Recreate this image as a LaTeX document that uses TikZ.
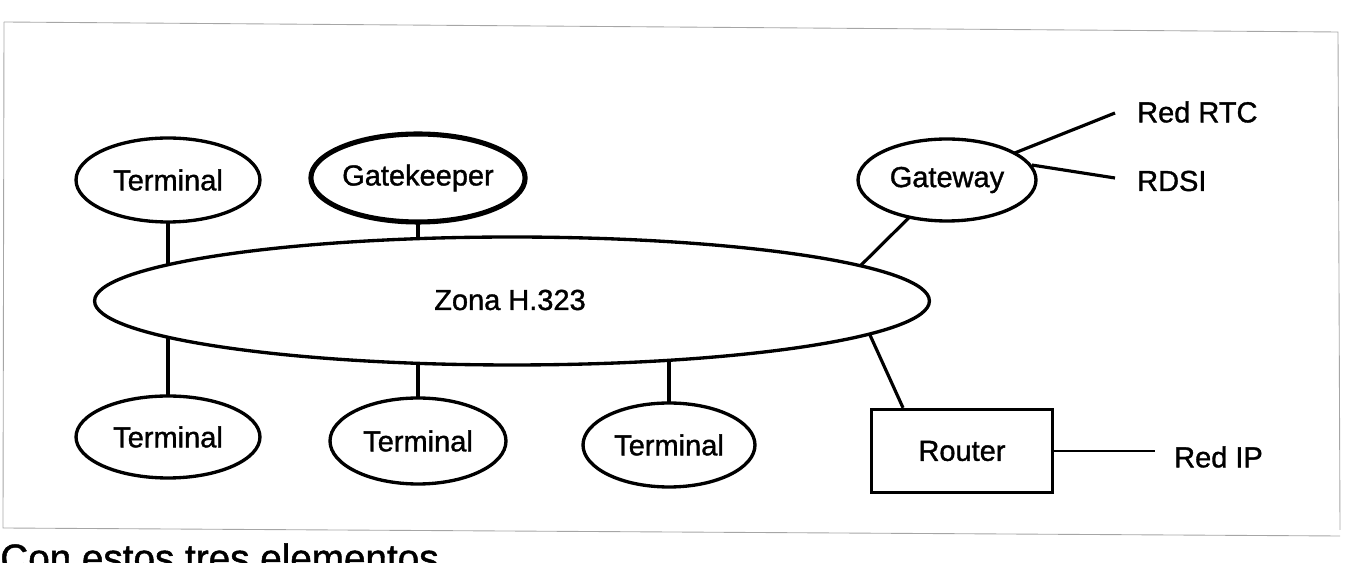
\documentclass[tikz,border=0pt]{standalone}
\usepackage{fontspec}
\setmainfont[FakeBold=1.2]{Liberation Sans}
\usetikzlibrary{shapes.geometric,backgrounds,calc}
\begin{document}
\begin{tikzpicture}[x=0.02cm,y=-0.02cm,
  lbl/.style={font=\fontsize{16.5}{18}\selectfont},
  ell/.style={ellipse,draw,line width=1.9pt,fill=white,inner sep=0pt,lbl},
  box/.style={rectangle,draw,line width=1.9pt,fill=white,inner sep=0pt,lbl},
  conn/.style={line width=1.8pt},
  thinconn/.style={line width=1.3pt},
  framel/.style={draw=black!35,line width=0.5pt}]
\useasboundingbox (0,0) rectangle (1350,563);
% scan frame
\draw[framel] (4,22) -- (1338,32) -- (1340,530);
\draw[framel] (4,22) -- (3,528) -- (1340,536);
% nodes
\node[ell,minimum width=3.68cm,minimum height=1.68cm] (t1) at (168,180) {Terminal};
\node[ell,line width=2.9pt,minimum width=3.52cm,minimum height=1.76cm] (gk) at (418,178) {Gatekeeper};
\node[ell,minimum width=3.56cm,minimum height=1.64cm] (gw) at (947,180) {Gateway};
\node[ell,minimum width=16.7cm,minimum height=2.56cm] (zona) at (512,301) {};
\node[lbl] (zl) at (510,300) {Zona H.323};
\node[ell,minimum width=3.68cm,minimum height=1.64cm] (t2) at (168,437) {Terminal};
\node[ell,minimum width=3.52cm,minimum height=1.72cm] (t3) at (418,441) {Terminal};
\node[ell,minimum width=3.44cm,minimum height=1.68cm] (t4) at (669,445) {Terminal};
\node[box,minimum width=3.62cm,minimum height=1.66cm] (router) at (962,451) {Router};
\node[lbl,anchor=west] (rtc) at (1131,112) {Red RTC};
\node[lbl,anchor=west] (rdsi) at (1131,181) {RDSI};
\node[lbl,anchor=west] (ip) at (1168,457) {Red IP};
\node[anchor=north west,inner sep=0pt,font=\fontsize{22}{24}\selectfont] (txt) at (0,543) {Con estos tres elementos};
% free ends
\coordinate (rtcend) at (1115,113);
\coordinate (rdsiend) at (1115,178);
\coordinate (ipend) at (1155,451);
\coordinate (gwz) at (841,285);
\coordinate (rz) at (860,313);
\begin{scope}[on background layer]
  \draw[conn] (t1.center) -- (t1.center |- zona.center);
  \draw[conn] (gk.center) -- (gk.center |- zona.center);
  \draw[conn] (t2.center |- zona.center) -- (t2.center);
  \draw[conn] (t3.center |- zona.center) -- (t3.center);
  \draw[conn] (t4.center |- zona.center) -- (t4.center);
  \draw[conn] (gw.center) -- (gwz);
  \draw[conn] (rz) -- ($(router.north west)!0.18!(router.north east)$);
  \draw[conn] (gw.center) -- (rtcend);
  \draw[conn] (gw.10) -- (rdsiend);
  \draw[thinconn] (router.center) -- (ipend);
\end{scope}
\end{tikzpicture}
\end{document}
